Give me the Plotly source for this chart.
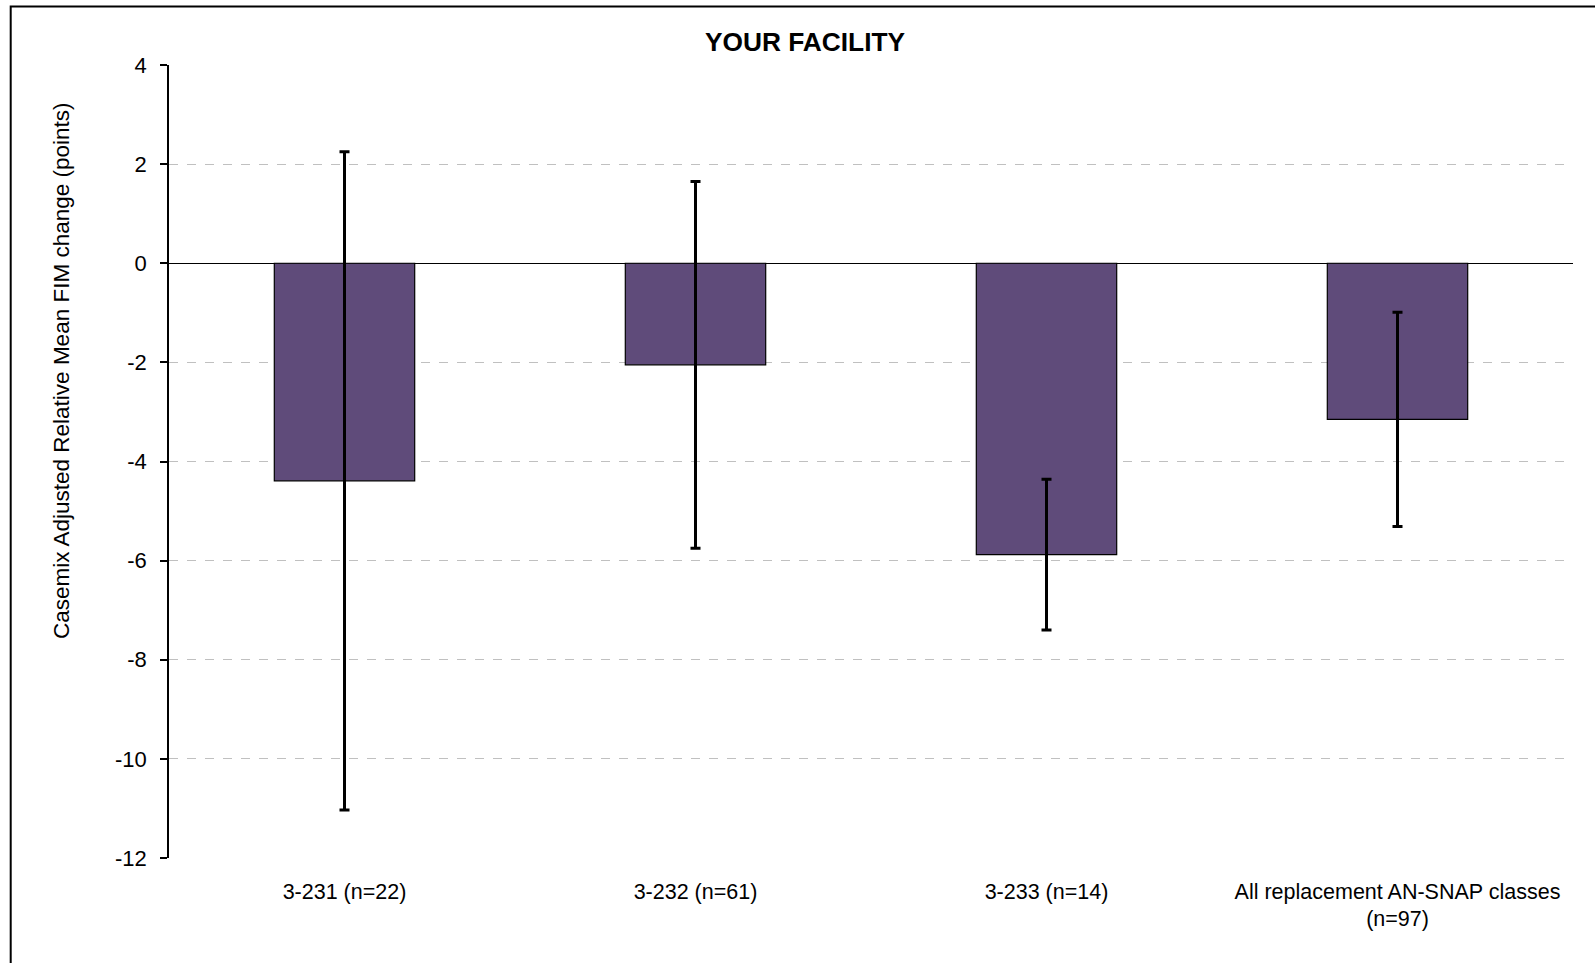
import plotly.graph_objects as go

categories = ["3-231 (n=22)", "3-232 (n=61)", "3-233 (n=14)", "All replacement AN-SNAP classes<br>(n=97)"]
values = [-4.39, -2.05, -5.88, -3.15]
errors = [6.64, 3.70, 1.52, 2.16]
y_ticks = [-12, -10, -8, -6, -4, -2, 0, 2, 4]
y_tick_labels = [str(v) for v in y_ticks]

FONT = "Liberation Sans, Arial, sans-serif"

W, H = 1595, 963
L, R, T, B = 169, 22, 65, 105
pw, ph = W - L - R, H - T - B

fig = go.Figure(
    go.Bar(
        x=categories,
        y=values,
        marker=dict(color="#5F4B7A", line=dict(color="#000000", width=1.2)),
        error_y=dict(type="data", array=errors, symmetric=True, color="#000000", thickness=3, width=5),
        width=0.4,
    )
)

fig.update_layout(
    width=W,
    height=H,
    margin=dict(l=L, r=R, t=T, b=B, autoexpand=False),
    paper_bgcolor="white",
    plot_bgcolor="white",
    showlegend=False,
    font=dict(family=FONT, color="#000000", size=22),
    title=dict(
        text="<b>YOUR FACILITY</b>",
        x=805 / W,
        xref="container",
        xanchor="center",
        y=1 - 41.7 / H,
        yref="container",
        yanchor="middle",
        font=dict(family=FONT, size=26.3, color="#000000"),
    ),
    xaxis=dict(
        showline=False,
        ticks="",
        showgrid=False,
        zeroline=False,
        tickfont=dict(family=FONT, size=21.5, color="#000000"),
        ticklabelstandoff=18,
    ),
    yaxis=dict(
        range=[-12, 4],
        tickvals=y_ticks,
        ticktext=y_tick_labels,
        showline=True,
        linecolor="#000000",
        linewidth=1.5,
        ticks="outside",
        ticklen=7,
        tickwidth=1.5,
        tickcolor="#000000",
        showgrid=True,
        gridcolor="#C0C0C0",
        griddash="dash",
        gridwidth=1,
        zeroline=True,
        zerolinecolor="#000000",
        zerolinewidth=1,
        tickfont=dict(family=FONT, size=22, color="#000000"),
        ticklabelstandoff=9,
    ),
    annotations=[
        dict(
            text="Casemix Adjusted Relative Mean FIM change (points)",
            xref="paper",
            yref="paper",
            x=(61 - L) / pw,
            y=1 - (371 - T) / ph,
            xanchor="center",
            yanchor="middle",
            textangle=-90,
            showarrow=False,
            font=dict(family=FONT, size=22.5, color="#000000"),
        )
    ],
    shapes=[
        dict(
            type="rect",
            xref="paper",
            yref="paper",
            x0=(10.7 - L) / pw,
            x1=1.2,
            y0=-0.3,
            y1=1 + (T - 6.5) / ph,
            line=dict(color="#000000", width=2),
            fillcolor="rgba(0,0,0,0)",
            layer="above",
        )
    ],
)

fig.write_html(
    "out.html",
    config={"displayModeBar": False},
    post_script="document.body.style.margin='0';document.body.style.overflow='hidden';",
)
